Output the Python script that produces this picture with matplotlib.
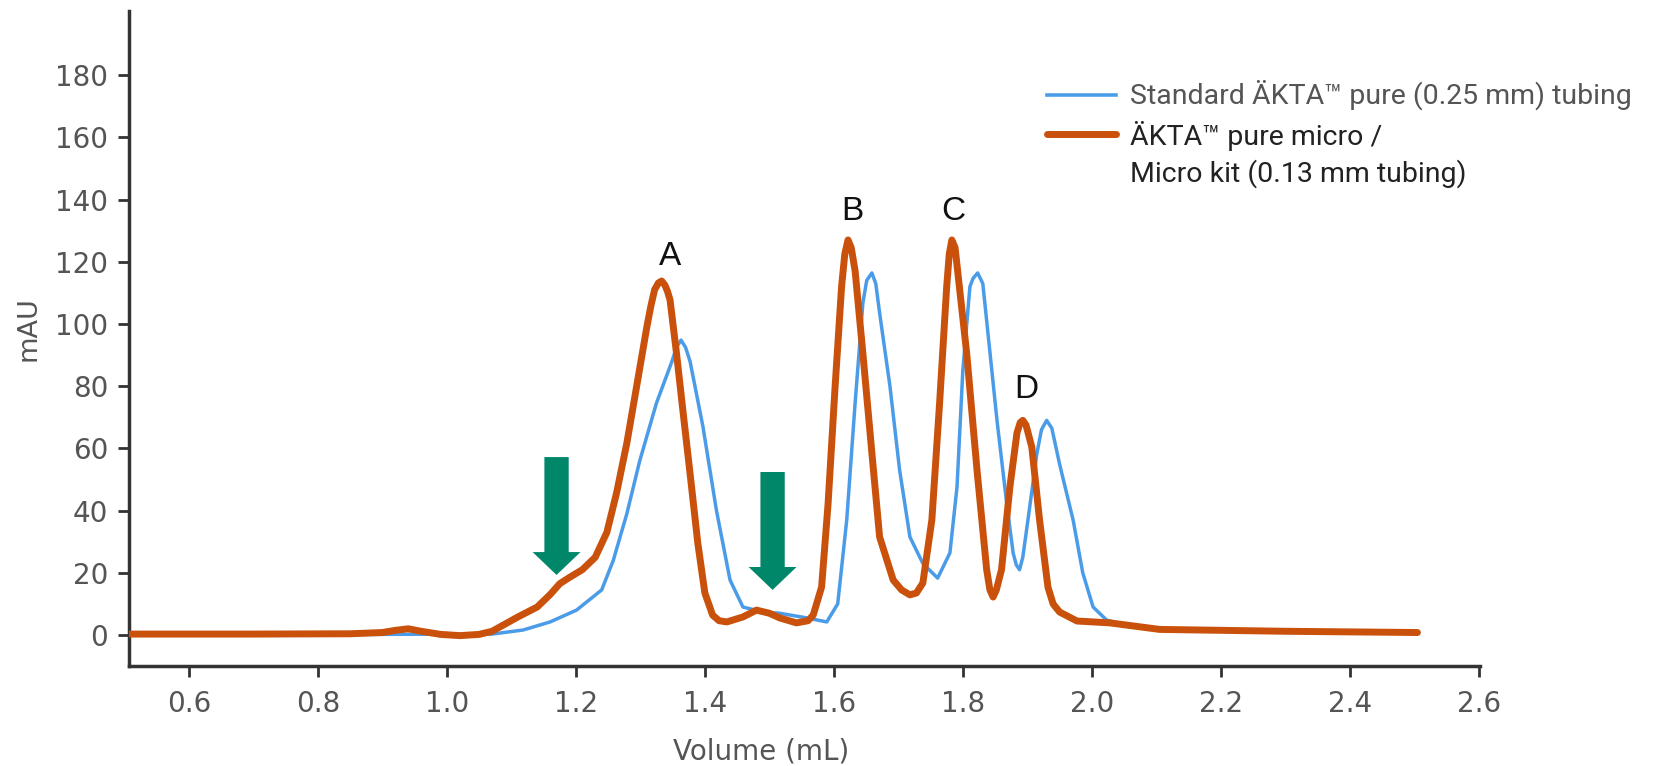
## Imports ##
import matplotlib
matplotlib.use("Agg")
import matplotlib.pyplot as plt
from matplotlib.lines import Line2D

## Data ##
# AKTA pure micro / Micro kit (0.13 mm tubing)
vol_micro = [0.507, 0.70, 0.85, 0.90, 0.92, 0.94, 0.96, 0.99, 1.02, 1.05, 1.07, 1.09, 1.11, 1.14,
             1.16, 1.175, 1.19, 1.21, 1.23, 1.248, 1.263, 1.279, 1.294, 1.310, 1.316, 1.322,
             1.328, 1.333, 1.338, 1.342, 1.346, 1.356, 1.366, 1.377, 1.389, 1.400, 1.412, 1.422,
             1.434, 1.459, 1.480, 1.500, 1.516, 1.542, 1.560, 1.568, 1.581, 1.591, 1.602, 1.612,
             1.617, 1.622, 1.627, 1.633, 1.645, 1.659, 1.671, 1.692, 1.705, 1.718, 1.728, 1.738,
             1.752, 1.764, 1.775, 1.779, 1.783, 1.788, 1.792, 1.806, 1.822, 1.837, 1.842, 1.847,
             1.852, 1.860, 1.873, 1.884, 1.889, 1.893, 1.898, 1.907, 1.919, 1.932, 1.940, 1.950,
             1.977, 2.028, 2.105, 2.300, 2.505]
abs_micro = [0.3, 0.3, 0.4, 0.8, 1.5, 2.0, 1.2, 0.2, -0.2, 0.2, 1.2, 3.5, 5.8, 9.0,
             13.0, 16.5, 18.5, 21.0, 25.0, 33.0, 45.6, 61.7, 79.7, 99.0, 105.5, 111.0,
             113.2, 113.8, 112.5, 110.5, 107.7, 90.6, 72.0, 52.0, 29.6, 13.5, 6.4, 4.6,
             4.2, 5.8, 8.0, 7.0, 5.5, 3.9, 4.6, 6.4, 15.4, 42.0, 80.0, 112.0,
             122.5, 127.0, 124.5, 117.0, 90.6, 58.5, 31.5, 17.7, 14.5, 12.9, 13.5, 16.7,
             37.0, 74.6, 112.0, 122.5, 127.0, 124.5, 117.0, 90.6, 53.0, 21.0, 14.5, 12.2,
             14.5, 21.0, 47.6, 65.0, 68.3, 69.0, 67.5, 60.4, 37.0, 15.4, 10.0, 7.4,
             4.5, 3.9, 1.8, 1.2, 0.8]

# Standard AKTA pure (0.25 mm) tubing
vol_std = [0.507, 1.07, 1.118, 1.160, 1.201, 1.240, 1.258, 1.279, 1.299, 1.325, 1.349, 1.356,
           1.363, 1.370, 1.377, 1.397, 1.418, 1.439, 1.459, 1.490, 1.516, 1.558, 1.589, 1.606,
           1.620, 1.633, 1.645, 1.651, 1.659, 1.665, 1.671, 1.687, 1.702, 1.718, 1.738, 1.761,
           1.780, 1.791, 1.800, 1.811, 1.816, 1.823, 1.831, 1.837, 1.853, 1.868, 1.878, 1.883,
           1.888, 1.893, 1.901, 1.915, 1.922, 1.930, 1.938, 1.950, 1.971, 1.986, 2.002, 2.023,
           2.064, 2.105, 2.505]
abs_std = [0.0, 0.3, 1.6, 4.2, 8.0, 14.5, 24.0, 39.0, 56.0, 74.6, 88.0, 92.5,
           94.8, 92.5, 88.0, 67.0, 40.0, 17.7, 9.0, 7.4, 7.0, 5.5, 4.2, 10.0,
           37.0, 74.6, 106.7, 114.0, 116.4, 113.0, 103.5, 80.0, 53.0, 31.5, 23.0, 18.3,
           26.4, 47.6, 85.0, 112.0, 114.7, 116.4, 113.0, 101.0, 69.0, 42.4, 26.4, 22.5,
           21.0, 25.0, 37.0, 58.5, 66.0, 69.0, 66.5, 55.0, 37.0, 20.0, 9.0, 4.8,
           2.6, 1.6, 0.8]

# peak labels
peak_names = ["A", "B", "C", "D"]
peak_x = [1.346, 1.628, 1.786, 1.898]
peak_y = [121.8, 136.3, 136.3, 78.8]

# green arrows (x, top, tip)
arrow_x = [1.170, 1.505]
arrow_top = [57.2, 52.4]
arrow_tip = [19.3, 14.5]

x_ticks = [0.6, 0.8, 1.0, 1.2, 1.4, 1.6, 1.8, 2.0, 2.2, 2.4, 2.6]
y_ticks = [0, 20, 40, 60, 80, 100, 120, 140, 160, 180]

label_std = "Standard ÄKTA™ pure (0.25 mm) tubing"
label_micro = "ÄKTA™ pure micro /\nMicro kit (0.13 mm tubing)"

## Colours ##
blue = "#4b9ce8"
orange = "#c9510c"
green = "#00876a"
axis_col = "#333333"
tick_text = "#555555"

## Figure ##
fig = plt.figure(figsize=(16.59, 7.66), dpi=100)
ax = fig.add_axes([129 / 1659, 0.1304, (1480 - 129) / 1659, 0.9852 - 0.1304])

ax.plot(vol_std, abs_std, color=blue, lw=2.5, solid_joinstyle="round", zorder=2)
ax.plot(vol_micro, abs_micro, color=orange, lw=5.0, solid_joinstyle="round",
        solid_capstyle="round", zorder=3)

for name, px, py in zip(peak_names, peak_x, peak_y):
    ax.text(px, py, name, fontsize=24, family=["Liberation Sans", "DejaVu Sans"],
            color="#111111", ha="center", va="center")

for ax_x, top, tip in zip(arrow_x, arrow_top, arrow_tip):
    ax.annotate("", xy=(ax_x, tip), xytext=(ax_x, top),
                arrowprops=dict(facecolor=green, edgecolor="none", width=17.5,
                                headwidth=34.5, headlength=16.5, shrink=0))

ax.set_xlim(0.507, 2.602)
ax.set_ylim(-10, 200.5)
ax.set_xticks(x_ticks)
ax.set_xticklabels([f"{t:.1f}" for t in x_ticks], family="DejaVu Sans", fontsize=20,
                   color=tick_text)
ax.set_yticks(y_ticks)
ax.set_yticklabels([str(t) for t in y_ticks], family="DejaVu Sans", fontsize=20,
                   color=tick_text)

for side in ["top", "right"]:
    ax.spines[side].set_visible(False)
for side in ["left", "bottom"]:
    ax.spines[side].set_linewidth(2.5)
    ax.spines[side].set_color(axis_col)
ax.tick_params(direction="out", length=8, width=2, color=axis_col)
ax.tick_params(axis="y", pad=7)
ax.tick_params(axis="x", pad=9)

ax.set_xlabel("Volume (mL)", family="DejaVu Sans", fontsize=20, color=tick_text, va="center")
ax.xaxis.set_label_coords(0.468, -0.130)
ax.set_ylabel("mAU", family="DejaVu Sans", fontsize=19.5, color=tick_text, va="center")
ax.yaxis.set_label_coords(-0.0743, 0.515)

## Legend (drawn by hand so each entry keeps its own text colour) ##
fig.add_artist(Line2D([1047 / 1659, 1116 / 1659], [0.876, 0.876], color=blue, lw=2.6,
                      transform=fig.transFigure))
fig.add_artist(Line2D([1047 / 1659, 1116 / 1659], [0.825, 0.825], color=orange, lw=5.0,
                      solid_capstyle="round", transform=fig.transFigure))
fig.text(1130 / 1659, 0.876, label_std, family=["Roboto", "DejaVu Sans"], fontsize=20.5,
         color="#555555", va="center", ha="left")
fig.text(1130 / 1659, 0.798, label_micro, family=["Roboto", "DejaVu Sans"], fontsize=20.5,
         color="#222222", va="center", ha="left", linespacing=1.35)

fig.savefig("out.png", dpi=100)
